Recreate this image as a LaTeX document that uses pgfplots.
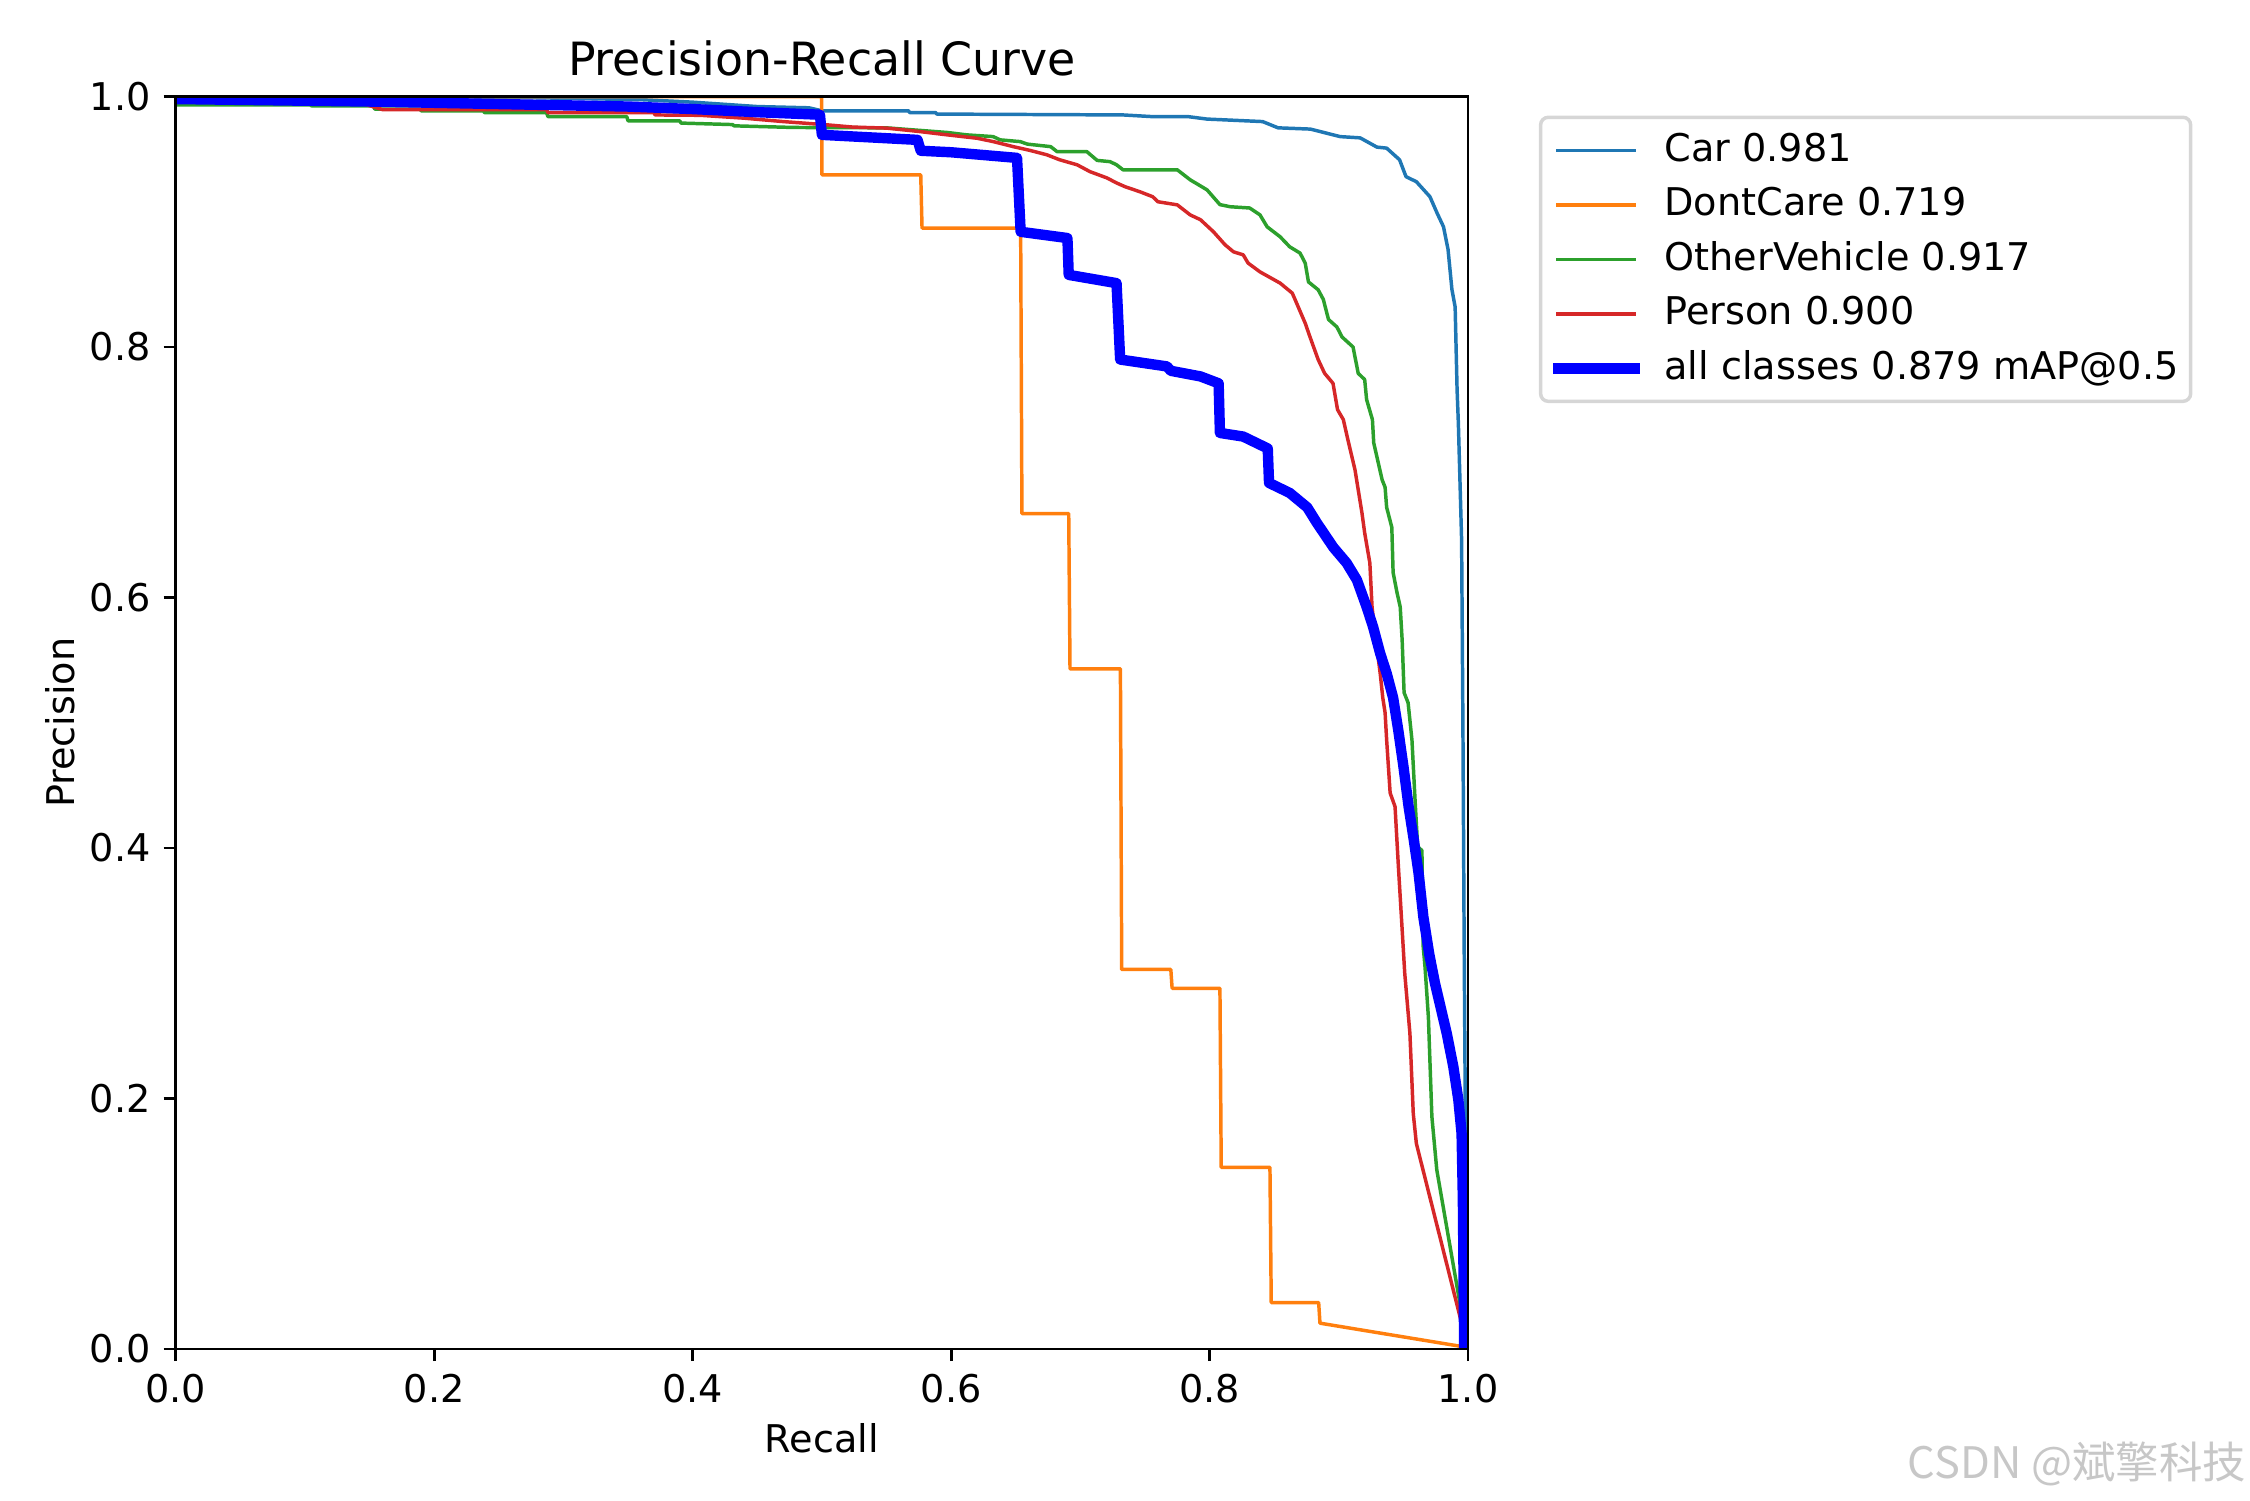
\documentclass[border=0pt]{standalone}
\usepackage{fontspec}
\setmainfont{DejaVu Sans}
\newfontfamily\cjk{Noto Sans CJK SC}
\usepackage{pgfplots}
\pgfplotsset{compat=1.18}
\definecolor{tabblue}{HTML}{1F77B4}
\definecolor{taborange}{HTML}{FF7F0E}
\definecolor{tabgreen}{HTML}{2CA02C}
\definecolor{tabred}{HTML}{D62728}
\begin{document}
\fontsize{11}{13.2}\selectfont
\begin{tikzpicture}
\path[use as bounding box] (0,0) rectangle (648pt,432pt);
\begin{axis}[
  at={(50.6pt,43.5pt)}, anchor=south west,
  scale only axis, width=372.2pt, height=360.7pt,
  xmin=0, xmax=1, ymin=0, ymax=1,
  axis on top,
  axis line style={line width=0.8pt},
  every tick/.style={black, line width=0.8pt},
  major tick length=3.5pt, tick align=outside, tick pos=left,
  xtick={0,0.2,0.4,0.6,0.8,1}, ytick={0,0.2,0.4,0.6,0.8,1},
  xticklabels={0.0,0.2,0.4,0.6,0.8,1.0},
  yticklabels={0.0,0.2,0.4,0.6,0.8,1.0},
  /pgf/number format/assume math mode=true,
  ticklabel style={font=\fontsize{11}{13}\selectfont},
  xticklabel style={anchor=north, inner sep=0pt, yshift=-3.5pt},
  yticklabel style={anchor=east, inner sep=0pt, xshift=-3.5pt},
  title={Precision-Recall Curve},
  title style={font=\fontsize{13.2}{15}\selectfont, at={(axis description cs:0.5,1)}, anchor=base, inner sep=0pt},
  xlabel={Recall},
  xlabel style={font=\fontsize{11}{13}\selectfont, at={(axis description cs:0.5,-0.0710)}, anchor=center, inner sep=0pt},
  ylabel={Precision},
  ylabel style={font=\fontsize{11}{13}\selectfont, at={(axis description cs:-0.0895,0.5)}, anchor=center, inner sep=0pt},
  legend style={
    at={(axis description cs:1.0548,0.9848)}, anchor=north west,
    draw=black!16, line width=1pt, rounded corners=2.2pt, fill=white,
    inner xsep=3.5pt, inner ysep=4.4pt,
    font=\fontsize{11}{13}\selectfont,
    row sep=5.5pt, column sep=7.2pt,
    nodes={inner sep=0pt, text height=8.2pt, text depth=2pt},
  },
  legend cell align=left,
  legend image code/.code={\draw[#1] (0pt,0pt) -- (22pt,0pt);},
]
\addplot[tabblue, line width=1pt, line cap=rect, line join=round] coordinates {
(0,1.0) (0.20,1.0) (0.28,0.999) (0.36,0.9975) (0.40,0.9955) (0.45,0.992) (0.49,0.991)
(0.50,0.9886) (0.567,0.9886) (0.568,0.9872) (0.588,0.9872) (0.589,0.986) (0.733,0.9853)
(0.755,0.984) (0.783,0.984) (0.798,0.982) (0.841,0.980) (0.853,0.975) (0.878,0.974)
(0.901,0.968) (0.9165,0.967) (0.9295,0.9596) (0.937,0.9588) (0.947,0.9495) (0.952,0.936)
(0.960,0.932) (0.9705,0.920) (0.976,0.907) (0.981,0.896) (0.9845,0.878) (0.9875,0.846)
(0.990,0.832) (0.9915,0.766) (0.9925,0.739) (0.995,0.646) (0.996,0.50) (0.997,0.32)
(0.998,0.17) (0.999,0.06) (1.0,0.0)
};
\addlegendentry{Car 0.981}
\addplot[taborange, line width=1pt, line cap=rect, line join=round] coordinates {
(0,1.0) (0.4998,1.0) (0.5,0.9375) (0.5765,0.9375) (0.5775,0.895) (0.6538,0.895)
(0.6548,0.667) (0.691,0.667) (0.692,0.543) (0.731,0.543) (0.732,0.303) (0.770,0.303)
(0.771,0.288) (0.808,0.288) (0.809,0.145) (0.8467,0.145) (0.8477,0.037) (0.8844,0.037)
(0.8854,0.0206) (0.995,0.002) (1.0,0.0)
};
\addlegendentry{DontCare 0.719}
\addplot[tabgreen, line width=1pt, line cap=rect, line join=round] coordinates {
(0,0.9934) (0.104,0.9934) (0.105,0.9926) (0.153,0.9926) (0.154,0.990) (0.189,0.990)
(0.190,0.9886) (0.238,0.9886) (0.239,0.9872) (0.287,0.9872) (0.288,0.984) (0.349,0.984)
(0.350,0.9806) (0.39,0.9806) (0.391,0.9788) (0.431,0.9776) (0.432,0.9766) (0.478,0.9753)
(0.55,0.975) (0.597,0.9713) (0.612,0.9694) (0.6325,0.968) (0.638,0.9654) (0.6535,0.964)
(0.659,0.962) (0.677,0.960) (0.682,0.956) (0.705,0.956) (0.713,0.949) (0.723,0.948)
(0.728,0.9455) (0.733,0.9415) (0.775,0.9415) (0.785,0.9335) (0.798,0.9255) (0.808,0.9137)
(0.816,0.912) (0.831,0.911) (0.839,0.9055) (0.8445,0.896) (0.8546,0.888) (0.862,0.880)
(0.870,0.875) (0.874,0.867) (0.8765,0.852) (0.884,0.8457) (0.888,0.838) (0.892,0.822)
(0.8985,0.816) (0.9025,0.808) (0.911,0.800) (0.915,0.779) (0.920,0.774) (0.9215,0.758)
(0.926,0.742) (0.927,0.7235) (0.9335,0.694) (0.9358,0.688) (0.937,0.672) (0.941,0.656)
(0.942,0.62) (0.945,0.604) (0.9475,0.5925) (0.949,0.566) (0.9505,0.524) (0.9536,0.516)
(0.9566,0.486) (0.959,0.438)
(0.961,0.401) (0.9643,0.398) (0.9653,0.321) (0.9667,0.305) (0.9693,0.265) (0.972,0.1855)
(0.9758,0.143) (0.995,0.0287) (0.997,0.0)
};
\addlegendentry{OtherVehicle 0.917}
\addplot[tabred, line width=1pt, line cap=rect, line join=round] coordinates {
(0,0.996) (0.143,0.995) (0.156,0.9908) (0.16,0.9896) (0.287,0.9896) (0.288,0.9872)
(0.37,0.9872) (0.371,0.9853) (0.406,0.985) (0.44,0.9827) (0.47,0.980) (0.504,0.9774)
(0.524,0.9756) (0.55,0.9748) (0.576,0.972) (0.597,0.9694) (0.62,0.9667) (0.6327,0.964)
(0.648,0.960) (0.661,0.957) (0.674,0.9535) (0.684,0.9495) (0.6975,0.9455) (0.7075,0.940)
(0.7206,0.935) (0.728,0.931) (0.7346,0.928) (0.746,0.924) (0.756,0.920) (0.760,0.916)
(0.775,0.9135) (0.785,0.9055) (0.793,0.9016) (0.803,0.892) (0.812,0.8816) (0.8185,0.876)
(0.826,0.8736) (0.8298,0.867) (0.839,0.860) (0.8546,0.851) (0.864,0.843) (0.8686,0.832)
(0.874,0.819) (0.8777,0.808) (0.884,0.790) (0.889,0.779) (0.8955,0.771) (0.899,0.750)
(0.9035,0.742) (0.907,0.726) (0.9125,0.702) (0.9179,0.6675) (0.920,0.6516) (0.924,0.6276)
(0.9257,0.5925) (0.928,0.5716) (0.932,0.5395) (0.934,0.52) (0.9358,0.508) (0.937,0.4863)
(0.9397,0.444) (0.9435,0.433) (0.9461,0.385) (0.9487,0.34) (0.951,0.300)
(0.955,0.252) (0.9576,0.188) (0.960,0.164) (0.995,0.0207) (0.997,0.0)
};
\addlegendentry{Person 0.900}
\addplot[blue, line width=3pt, line cap=rect, line join=round] coordinates {
(0,0.998) (0.15,0.996) (0.25,0.994) (0.35,0.992) (0.40,0.990) (0.45,0.9875) (0.4985,0.9855)
(0.5,0.9694) (0.574,0.9654) (0.5765,0.9567) (0.60,0.9555) (0.651,0.951) (0.6538,0.892)
(0.69,0.887) (0.691,0.8576) (0.728,0.851) (0.7308,0.790) (0.767,0.7845) (0.770,0.781)
(0.793,0.7765) (0.807,0.771) (0.808,0.7314) (0.826,0.7285) (0.845,0.719) (0.846,0.6915)
(0.862,0.6835) (0.8755,0.672) (0.883,0.6596) (0.8958,0.640) (0.906,0.6276) (0.914,0.614)
(0.9215,0.5925) (0.9265,0.5766) (0.932,0.5554) (0.937,0.5395) (0.942,0.52) (0.946,0.494)
(0.950,0.465) (0.954,0.433) (0.958,0.4065) (0.9617,0.380) (0.9654,0.345)
(0.970,0.315) (0.9744,0.292) (0.9835,0.252) (0.9886,0.2254) (0.9925,0.1988) (0.995,0.172)
(0.996,0.119) (0.997,0.0)
};
\addlegendentry{all classes 0.879 mAP@0.5}
\end{axis}
\node[anchor=base east, inner sep=0pt, text=black!22, font=\cjk\fontsize{12.5}{14}\selectfont] at (647pt,6.3pt) {CSDN @斌擎科技};
\end{tikzpicture}
\end{document}
